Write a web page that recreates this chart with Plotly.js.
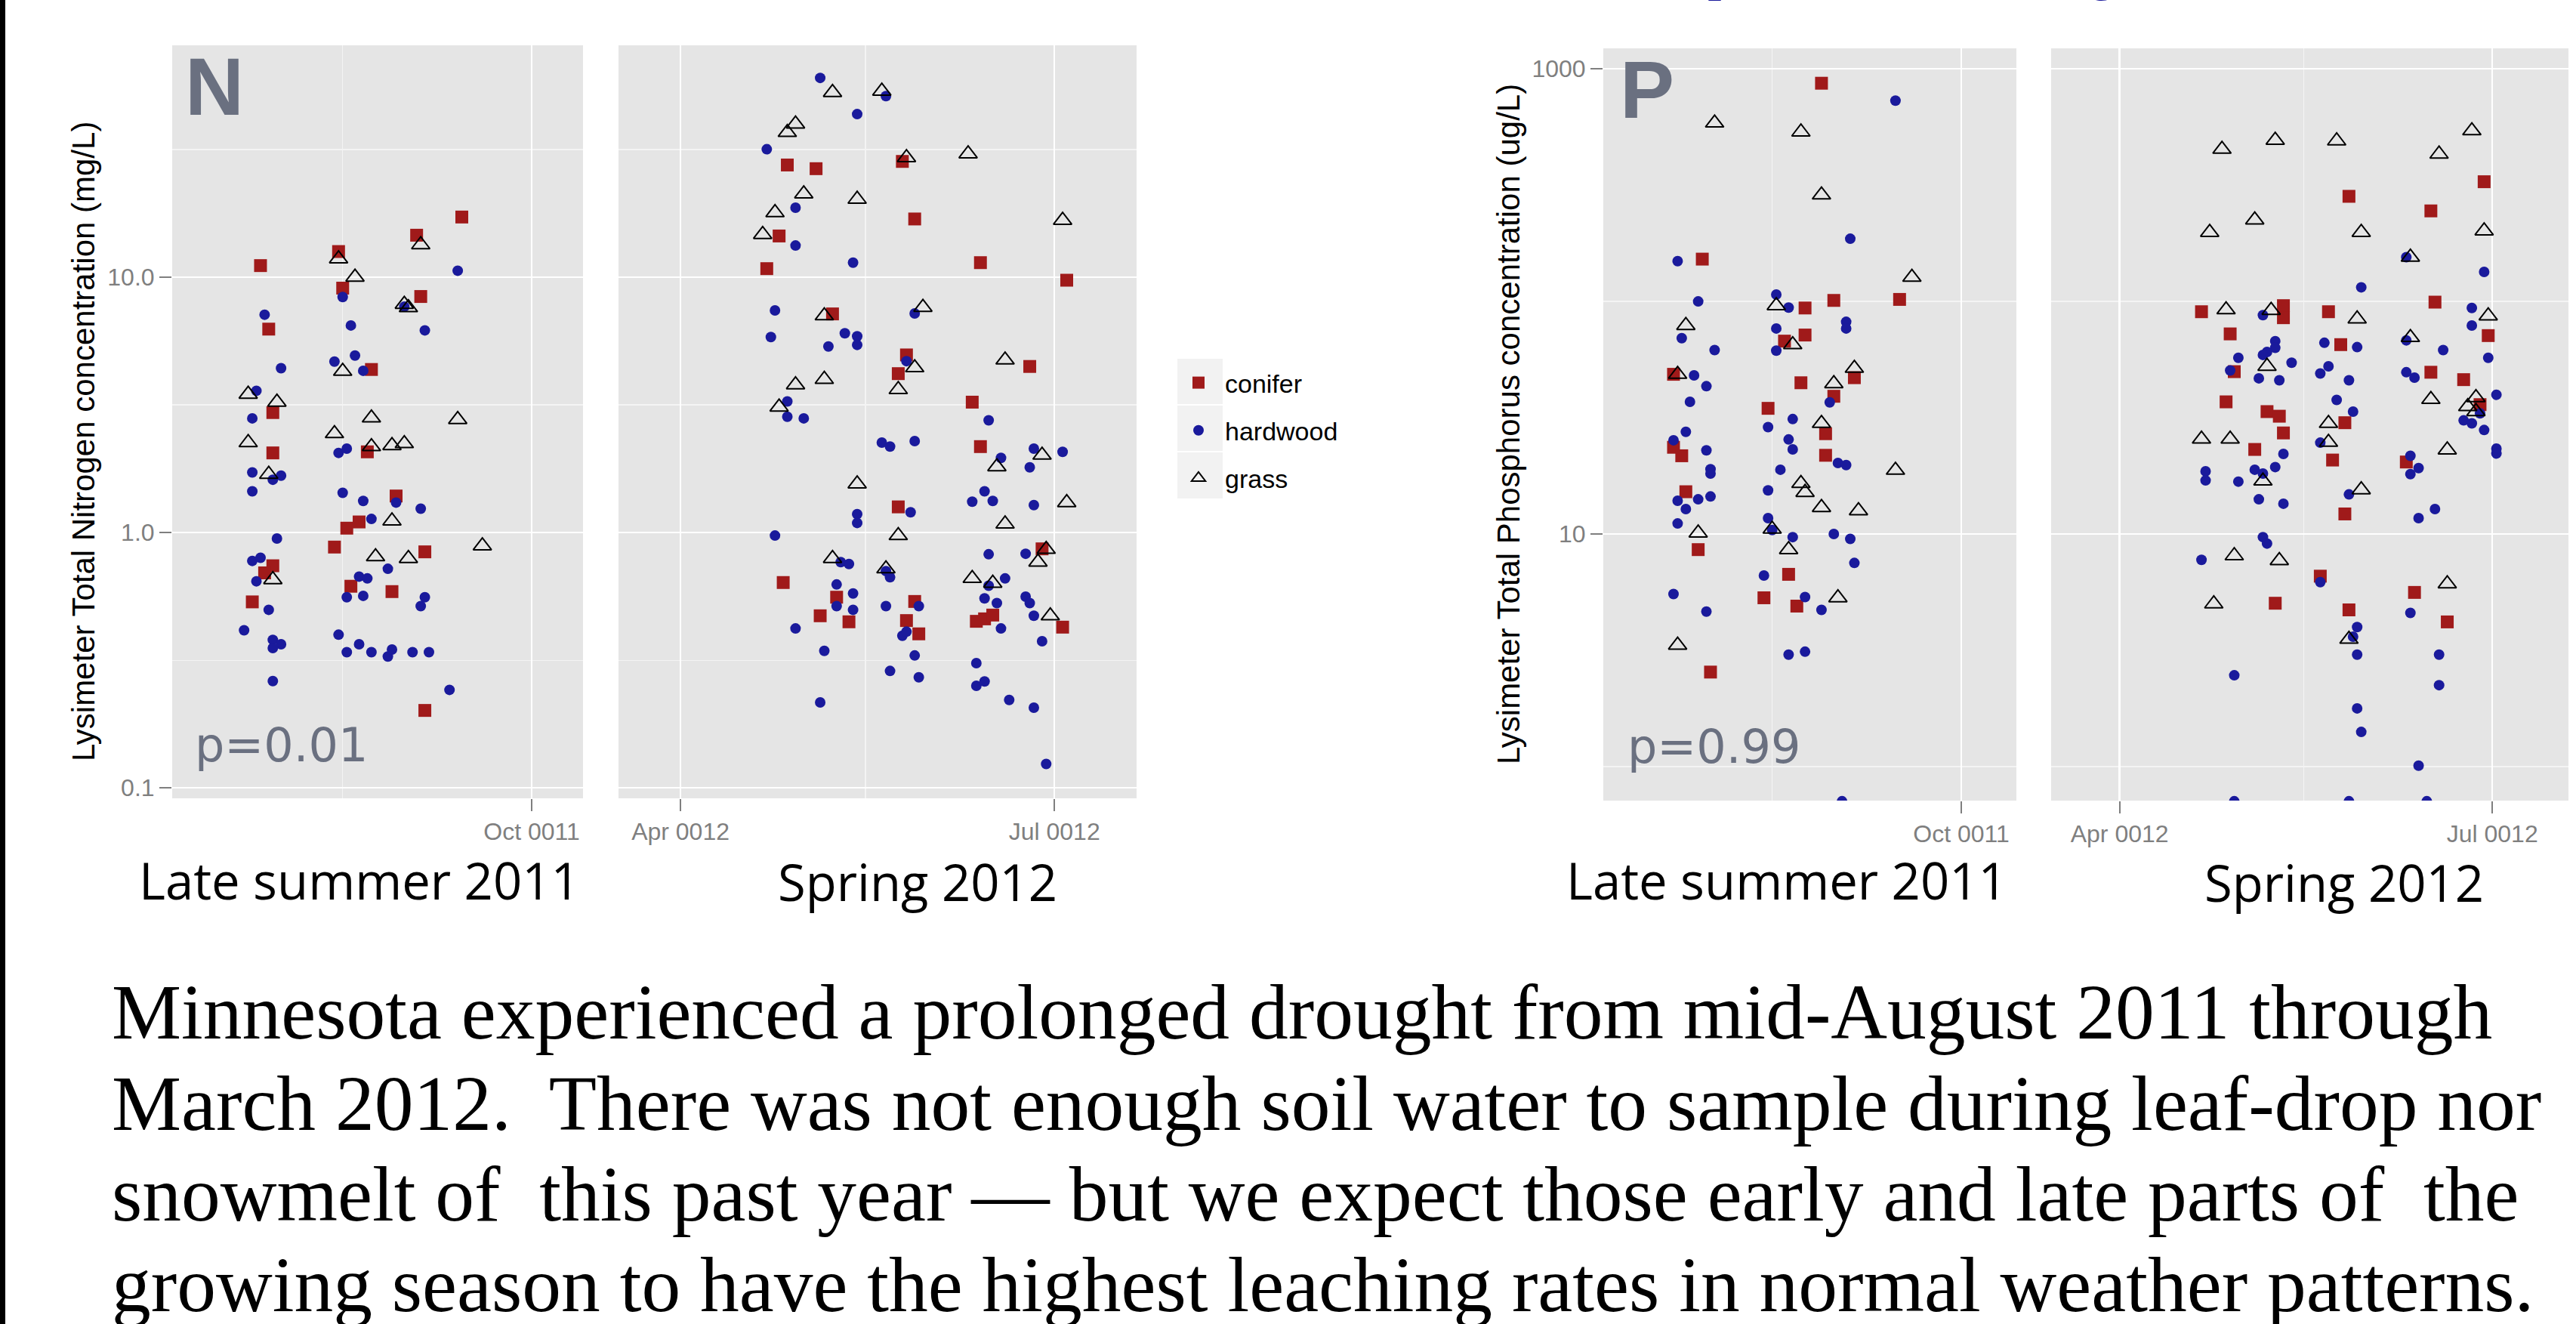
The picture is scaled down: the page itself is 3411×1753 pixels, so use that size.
<!DOCTYPE html>
<html><head><meta charset="utf-8">
<script src="https://cdn.plot.ly/plotly-3.0.1.min.js"></script>
<style>html,body{margin:0;padding:0;background:#fff;}#chart{width:3411px;height:1753px;}</style>
</head><body><div id="chart"></div>
<script>
// ---------- Categories / labels ----------
const seriesNames = ['conifer', 'hardwood', 'grass'];
const periodLabels = ['Late summer 2011', 'Spring 2012'];
const nTickVals = [0.1, 1, 10];
const nTickText = ['0.1', '1.0', '10.0'];
const pTickVals = [10, 1000];
const pTickText = ['10', '1000'];
const lsDateTicks = ['2011-10-01'];
const lsDateTickText = ['Oct 0011'];
const spDateTicks = ['2012-04-01', '2012-07-01'];
const spDateTickText = ['Apr 0012', 'Jul 0012'];
const pValueN = 'p=0.01';
const pValueP = 'p=0.99';

// ---------- Nitrogen (mg/L), late summer 2011 ----------
const nLsConiferDate = ['2011-07-27','2011-07-29','2011-07-30','2011-07-30','2011-07-30','2011-07-28','2011-07-25','2011-08-15','2011-08-16','2011-08-23','2011-08-22','2011-08-17','2011-08-20','2011-08-14','2011-08-18','2011-08-28','2011-08-29','2011-09-03','2011-09-04','2011-09-05','2011-09-05','2011-09-14'];
const nLsConiferVal = [11.1,6.26,2.95,2.05,0.741,0.695,0.535,12.6,9.06,4.35,2.07,1.04,1.10,0.877,0.616,0.587,1.39,14.6,8.40,0.840,0.201,17.2];
const nLsHardwoodDate = ['2011-07-28','2011-08-01','2011-07-26','2011-07-25','2011-07-25','2011-08-01','2011-07-30','2011-07-25','2011-07-31','2011-07-25','2011-07-27','2011-07-26','2011-07-29','2011-07-23','2011-07-30','2011-08-01','2011-07-30','2011-07-30',
 '2011-08-16','2011-08-18','2011-08-19','2011-08-14','2011-08-21','2011-08-15','2011-08-17','2011-08-16','2011-08-21','2011-08-23','2011-08-29','2011-09-04','2011-08-20','2011-08-22','2011-08-27','2011-08-17','2011-08-21','2011-09-05','2011-09-04','2011-08-15','2011-08-20','2011-08-17','2011-08-23','2011-08-27','2011-08-28','2011-09-02','2011-09-06','2011-08-31','2011-09-05','2011-09-13','2011-09-11'];
const nLsHardwoodVal = [7.13,4.40,3.59,2.80,1.72,1.67,1.61,1.45,0.947,0.774,0.796,0.644,0.498,0.414,0.380,0.365,0.353,0.262,
 8.36,6.47,4.93,4.67,4.30,2.05,2.13,1.43,1.33,1.13,1.31,1.24,0.672,0.661,0.721,0.558,0.565,0.558,0.515,0.398,0.365,0.340,0.340,0.327,0.348,0.340,0.340,7.66,6.19,10.6,0.242];
const nLsGrassDate = ['2011-07-24','2011-07-31','2011-07-24','2011-07-29','2011-07-30','2011-08-15','2011-08-19','2011-08-16','2011-08-14','2011-08-23','2011-08-23','2011-08-28','2011-08-31','2011-08-28','2011-08-24','2011-09-01','2011-08-31','2011-09-01','2011-09-04','2011-09-13','2011-09-19'];
const nLsGrassVal = [3.48,3.24,2.25,1.69,0.654,11.8,10.0,4.28,2.44,2.81,2.17,2.19,2.23,1.11,0.804,0.791,7.83,7.6,13.4,2.77,0.887];

// ---------- Nitrogen (mg/L), spring 2012 ----------
const nSpConiferDate = ['2012-04-27','2012-05-04','2012-05-25','2012-05-28','2012-04-25','2012-04-22','2012-06-13','2012-07-04','2012-05-08','2012-05-26','2012-05-24','2012-06-25','2012-06-11','2012-06-13','2012-05-24','2012-06-28','2012-04-26','2012-05-09','2012-05-05','2012-05-12','2012-05-28','2012-05-26','2012-05-29','2012-06-12','2012-06-14','2012-06-16','2012-07-03'];
const nSpConiferVal = [27.5,26.6,28.4,16.9,14.5,10.8,11.4,9.73,7.18,4.96,4.19,4.47,3.24,2.17,1.26,0.863,0.637,0.558,0.472,0.447,0.537,0.452,0.401,0.449,0.459,0.475,0.426];
const nSpHardwoodDate = ['2012-05-05','2012-05-21','2012-05-14','2012-04-22','2012-04-29','2012-04-29','2012-05-13','2012-04-24','2012-04-23','2012-05-11',
 '2012-05-14','2012-05-07','2012-05-14','2012-05-28','2012-04-27','2012-04-27','2012-05-01','2012-05-26','2012-05-20','2012-05-22',
 '2012-05-28','2012-06-15','2012-06-18','2012-06-26','2012-07-03','2012-06-25','2012-06-14','2012-06-11','2012-06-16','2012-06-26',
 '2012-05-14','2012-05-14','2012-05-27','2012-04-24','2012-05-10','2012-05-12','2012-05-21','2012-05-22','2012-05-09','2012-05-13',
 '2012-05-09','2012-05-13','2012-04-29','2012-05-21','2012-05-29','2012-05-25','2012-05-26','2012-05-28','2012-05-06','2012-05-22',
 '2012-05-29','2012-05-05','2012-06-15','2012-06-19','2012-06-15','2012-06-14','2012-06-17','2012-06-18','2012-06-24','2012-06-24',
 '2012-06-25','2012-06-26','2012-06-28','2012-06-12','2012-06-12','2012-06-14','2012-06-20','2012-06-26','2012-06-29'];
const nSpHardwoodVal = [60.3,51.2,43.5,31.7,18.7,13.3,11.4,7.41,5.83,6.03,
 5.87,5.35,5.43,7.21,3.26,2.84,2.80,4.69,2.25,2.17,
 2.28,2.75,1.96,2.13,2.07,1.80,1.45,1.32,1.33,1.28,
 1.18,1.09,1.20,0.973,0.766,0.753,0.706,0.668,0.626,0.577,
 0.515,0.498,0.421,0.515,0.515,0.394,0.409,0.330,0.344,0.287,
 0.271,0.216,0.822,0.661,0.619,0.552,0.529,0.421,0.826,0.561,
 0.529,0.472,0.375,0.308,0.251,0.261,0.221,0.206,0.124];
const nSpGrassDate = ['2012-05-08','2012-05-20','2012-06-10','2012-05-26','2012-04-29','2012-04-27','2012-05-01','2012-04-24','2012-05-14','2012-04-21','2012-07-03','2012-05-06','2012-05-30','2012-06-19','2012-05-28','2012-05-06','2012-04-29','2012-05-24','2012-04-25','2012-05-14','2012-06-28','2012-06-17','2012-07-04','2012-06-19','2012-05-24','2012-05-08','2012-05-21','2012-06-29','2012-06-27','2012-06-11','2012-06-16','2012-06-30'];
const nSpGrassVal = [52.9,53.5,30.4,29.4,39.8,36.9,21.2,17.9,20.2,14.7,16.7,7.06,7.62,4.74,4.42,3.98,3.79,3.63,3.10,1.55,2.01,1.81,1.31,1.08,0.973,0.791,0.721,0.859,0.766,0.661,0.633,0.472];

// ---------- Phosphorus (ug/L), late summer 2011 ----------
const pLsConiferDate = ['2011-08-28','2011-07-30','2011-08-31','2011-09-16','2011-08-24','2011-08-24','2011-08-19','2011-08-23','2011-07-23','2011-08-31','2011-09-05','2011-08-15','2011-08-29','2011-08-29','2011-07-23','2011-07-25','2011-07-26','2011-07-29','2011-08-20','2011-08-14','2011-08-22','2011-08-01'];
const pLsConiferVal = [867,152,101,102,93.7,71.7,67.5,44.7,48.6,39.1,47.0,34.7,27.0,21.8,23.6,21.7,15.2,8.57,6.71,5.32,4.90,2.55];
const pLsHardwoodDate = ['2011-09-15','2011-09-04','2011-07-24','2011-07-29','2011-08-17','2011-08-20','2011-08-17','2011-09-03','2011-09-03','2011-07-25',
 '2011-08-02','2011-08-17','2011-07-28','2011-07-31','2011-07-27','2011-07-26','2011-07-23','2011-07-31','2011-08-01','2011-08-01',
 '2011-08-01','2011-07-29','2011-07-24','2011-07-26','2011-07-24','2011-07-23','2011-07-31','2011-08-21','2011-08-15','2011-08-20',
 '2011-08-21','2011-08-18','2011-08-30','2011-09-01','2011-09-03','2011-08-15','2011-08-15','2011-08-16','2011-08-21','2011-08-31',
 '2011-09-04','2011-09-05','2011-08-14','2011-08-24','2011-08-28','2011-08-20','2011-08-24','2011-09-02'];
const pLsHardwoodVal = [730,186,149,100,107,94.1,76.5,81.7,76.5,69.5,
 61.8,61.4,48.1,43.2,37.0,27.5,25.3,22.9,19.0,18.2,
 14.5,14.1,13.9,12.8,11.1,5.52,4.64,31.2,28.8,25.5,
 23.1,18.9,36.8,20.2,19.8,15.4,11.7,10.4,9.70,10.0,
 9.53,7.51,6.63,5.36,4.72,3.03,3.12,0.71];
const pLsGrassDate = ['2011-08-02','2011-08-23','2011-08-28','2011-09-19','2011-08-17','2011-07-26','2011-08-21','2011-07-24','2011-09-05','2011-08-31','2011-08-28','2011-09-15','2011-08-23','2011-08-24','2011-08-28','2011-09-06','2011-08-16','2011-07-29','2011-08-20','2011-09-01','2011-07-24'];
const pLsGrassVal = [585,535,287,127,95.9,78.8,65.2,48.6,51.6,44.3,29.9,18.8,16.5,15.1,13.0,12.6,10.5,10.1,8.57,5.32,3.33];

// ---------- Phosphorus (ug/L), spring 2012 ----------
const pSpConiferDate = ['2012-06-29','2012-05-27','2012-06-16','2012-06-17','2012-04-21','2012-05-11','2012-05-11','2012-05-22','2012-04-28','2012-05-25',
 '2012-06-30','2012-04-29','2012-06-16','2012-06-24','2012-04-27','2012-05-07','2012-05-10','2012-05-26','2012-05-11','2012-06-28',
 '2012-05-04','2012-05-23','2012-06-10','2012-05-26','2012-05-20','2012-06-12','2012-05-09','2012-05-27','2012-06-20'];
const pSpConiferVal = [327,283,245,99.3,90.3,95.9,85.1,90.3,72.5,65.2,
 71.3,49.9,49.6,46.1,37.0,33.6,32.1,30.1,27.2,36.0,
 23.1,20.8,20.4,12.2,6.59,5.61,5.04,4.72,4.19];
const pSpHardwoodDate = ['2012-05-30','2012-06-29','2012-06-10','2012-06-26','2012-06-26','2012-05-06','2012-05-09','2012-05-09','2012-05-07','2012-05-06',
 '2012-05-21','2012-05-29','2012-06-10','2012-06-19','2012-06-30','2012-04-30','2012-05-13','2012-04-28','2012-05-05','2012-05-10',
 '2012-05-20','2012-05-22','2012-05-27','2012-06-10','2012-06-12','2012-07-02','2012-05-24','2012-05-28','2012-06-24','2012-06-26',
 '2012-06-28','2012-06-29','2012-07-02','2012-07-02','2012-05-20','2012-05-11','2012-05-09','2012-05-04','2012-05-06','2012-04-22',
 '2012-04-22','2012-04-30','2012-06-11','2012-06-13','2012-06-11','2012-05-05','2012-05-11','2012-05-27','2012-06-13','2012-06-17',
 '2012-05-06','2012-05-07','2012-04-21','2012-05-20','2012-06-11','2012-05-29','2012-05-28','2012-05-29','2012-06-18','2012-06-18',
 '2012-04-29','2012-05-29','2012-05-30','2012-06-13','2012-04-29','2012-05-27','2012-06-15'];
const pSpHardwoodVal = [115,134,155,93.7,78.8,87.3,67.5,63.2,60.6,58.9,
 66.4,63.6,68.0,61.8,57.2,57.2,54.5,50.5,46.7,45.8,
 49.0,52.6,45.8,49.6,47.0,39.7,37.7,33.6,30.8,29.9,
 33.0,28.0,23.3,22.2,24.7,22.1,19.4,18.9,18.2,18.6,
 17.0,16.8,21.7,19.2,18.1,14.1,13.5,14.8,11.7,12.8,
 9.70,9.10,7.74,6.21,4.58,3.98,3.62,3.03,3.03,2.24,
 2.47,1.78,1.41,1.01,0.71,0.71,0.71];
const pSpGrassDate = ['2012-06-26','2012-05-09','2012-05-24','2012-04-26','2012-06-18','2012-05-04','2012-04-23','2012-05-30','2012-06-29','2012-06-11',
 '2012-04-27','2012-05-08','2012-05-29','2012-06-30','2012-06-11','2012-05-07','2012-06-16','2012-06-27','2012-06-25','2012-06-27',
 '2012-05-22','2012-04-21','2012-04-28','2012-05-22','2012-06-20','2012-05-06','2012-05-30','2012-04-29','2012-05-10','2012-06-20',
 '2012-04-24','2012-05-27'];
const pSpGrassVal = [542,493,490,451,430,224,198,198,201,155,
 92.1,91.5,84.1,86.7,70.0,52.6,37.9,38.6,35.3,33.6,
 29.9,25.6,25.6,24.8,23.0,16.9,15.5,8.07,7.69,6.11,
 5.01,3.53];

// ---------- Text ----------
const nYTitle = 'Lysimeter Total Nitrogen concentration (mg/L)';
const pYTitle = 'Lysimeter Total Phosphorus concentration (ug/L)';
const bodyLines = [
  'Minnesota experienced a prolonged drought from mid-August 2011 through',
  'March 2012.\u00a0 There was not enough soil water to sample during leaf-drop nor',
  'snowmelt of\u00a0 this past year \u2014 but we expect those early and late parts of\u00a0 the',
  'growing season to have the highest leaching rates in normal weather patterns.'
];
const slideTitle = 'Seasonal pattern by site';

// ---------- Styling ----------
const W = 3411, H = 1753;
const px = v => v / W;
const py = v => 1 - v / H;
const RED = '#A01A1A', BLUE = '#1A1A9C';
const markerStyles = {
  conifer: {symbol: 'square', size: 17, color: RED, line: {width: 0}},
  hardwood: {symbol: 'circle', size: 14, color: BLUE, line: {width: 0}},
  grass: {symbol: 'triangle-up-open', size: 21, color: '#000', line: {width: 2, color: '#000'}}
};

function mk(name, xs, ys, xa, ya, legend) {
  return {type: 'scatter', mode: 'markers', name: name, x: xs, y: ys, xaxis: xa, yaxis: ya,
    marker: markerStyles[name], showlegend: legend, legendgroup: name, cliponaxis: true, hoverinfo: 'skip'};
}
const data = [
  mk('conifer', nLsConiferDate, nLsConiferVal, 'x', 'y', true),
  mk('hardwood', nLsHardwoodDate, nLsHardwoodVal, 'x', 'y', true),
  mk('grass', nLsGrassDate, nLsGrassVal, 'x', 'y', true),
  mk('conifer', nSpConiferDate, nSpConiferVal, 'x2', 'y', false),
  mk('hardwood', nSpHardwoodDate, nSpHardwoodVal, 'x2', 'y', false),
  mk('grass', nSpGrassDate, nSpGrassVal, 'x2', 'y', false),
  mk('conifer', pLsConiferDate, pLsConiferVal, 'x3', 'y2', false),
  mk('hardwood', pLsHardwoodDate, pLsHardwoodVal, 'x3', 'y2', false),
  mk('grass', pLsGrassDate, pLsGrassVal, 'x3', 'y2', false),
  mk('conifer', pSpConiferDate, pSpConiferVal, 'x4', 'y2', false),
  mk('hardwood', pSpHardwoodDate, pSpHardwoodVal, 'x4', 'y2', false),
  mk('grass', pSpGrassDate, pSpGrassVal, 'x4', 'y2', false)
];

const tickFont = {family: 'Liberation Sans, Arial, sans-serif', size: 32, color: '#7F7F7F'};
const minorGrid = vals => ({tickmode: 'array', tickvals: vals, showgrid: true, gridcolor: '#F4F4F4', gridwidth: 1.4, ticks: ''});
function xAx(domain, range, tv, tt, minorVals, anchor) {
  return {type: 'date', domain: domain, range: range, anchor: anchor, tickmode: 'array', tickvals: tv, ticktext: tt,
    ticks: 'outside', ticklen: 16, tickwidth: 2, tickcolor: '#7F7F7F', tickfont: tickFont,
    showgrid: true, gridcolor: '#FFFFFF', gridwidth: 2.5, zeroline: false, showline: false,
    minor: minorGrid(minorVals), fixedrange: true};
}
function yAx(domain, range, tv, tt, minorVals, anchor) {
  return {type: 'log', domain: domain, range: range, anchor: anchor, tickmode: 'array', tickvals: tv, ticktext: tt,
    ticks: 'outside', ticklen: 16, tickwidth: 2, tickcolor: '#7F7F7F', tickfont: tickFont,
    showgrid: true, gridcolor: '#FFFFFF', gridwidth: 2.5, zeroline: false, showline: false,
    minor: minorGrid(minorVals), fixedrange: true};
}

const annSans = 'Open Sans, sans-serif';
const annotations = [
  {text: nYTitle, x: px(110), y: py(585), textangle: -90, font: {family: 'Liberation Sans, Arial', size: 42, color: '#000'}},
  {text: pYTitle, x: px(1997), y: py(562), textangle: -90, font: {family: 'Liberation Sans, Arial', size: 42, color: '#000'}},
  {text: '<b>N</b>', x: px(243), y: py(114), xanchor: 'left', font: {family: 'Liberation Sans, Arial', size: 108, color: '#6A7080'}},
  {text: '<b>P</b>', x: px(2143), y: py(118), xanchor: 'left', font: {family: 'Liberation Sans, Arial', size: 108, color: '#6A7080'}},
  {text: pValueN, x: px(256), y: py(987), xanchor: 'left', font: {family: 'DejaVu Sans', size: 62, color: '#6A7080'}},
  {text: pValueP, x: px(2153), y: py(988), xanchor: 'left', font: {family: 'DejaVu Sans', size: 62, color: '#6A7080'}},
  {text: periodLabels[0], x: px(476), y: py(1165), font: {family: annSans, size: 67, color: '#000'}},
  {text: periodLabels[1], x: px(1215), y: py(1167), font: {family: annSans, size: 67, color: '#000'}},
  {text: periodLabels[0], x: px(2366), y: py(1165), font: {family: annSans, size: 67, color: '#000'}},
  {text: periodLabels[1], x: px(3104), y: py(1168), font: {family: annSans, size: 67, color: '#000'}},
  {text: slideTitle, x: px(1736), y: py(9), xanchor: 'left', yanchor: 'bottom', font: {family: annSans, size: 110, color: '#1A1A9C', weight: 700}}
];
const bodyBase = [1375, 1496, 1616, 1736];
bodyLines.forEach((t, i) => {
  annotations.push({text: t, x: px(146), y: py(bodyBase[i] - 35), xanchor: 'left',
    font: {family: 'Liberation Serif, Times New Roman, serif', size: 103.5, color: '#000'}});
});
annotations.forEach(a => { a.xref = 'paper'; a.yref = 'paper'; a.showarrow = false;
  if (!a.xanchor) a.xanchor = 'center'; if (!a.yanchor) a.yanchor = 'middle'; });

const shapes = [
  {type: 'rect', xref: 'paper', yref: 'paper', x0: 0, x1: px(7), y0: 0, y1: 1, fillcolor: '#000', line: {width: 0}, layer: 'below'},
  {type: 'rect', xref: 'paper', yref: 'paper', x0: px(1559), x1: px(1619), y0: py(535), y1: py(475), fillcolor: '#F2F2F2', line: {width: 0}, layer: 'below'},
  {type: 'rect', xref: 'paper', yref: 'paper', x0: px(1559), x1: px(1619), y0: py(597), y1: py(537), fillcolor: '#F2F2F2', line: {width: 0}, layer: 'below'},
  {type: 'rect', xref: 'paper', yref: 'paper', x0: px(1559), x1: px(1619), y0: py(660), y1: py(599), fillcolor: '#F2F2F2', line: {width: 0}, layer: 'below'}
];

const layout = {
  width: W, height: H, margin: {l: 0, r: 0, t: 0, b: 0, pad: 0},
  paper_bgcolor: '#FFFFFF', plot_bgcolor: '#E5E5E5', showlegend: true,
  legend: {x: px(1552), xanchor: 'left', y: py(478), yanchor: 'top', bgcolor: 'rgba(0,0,0,0)',
    font: {family: 'Liberation Sans, Arial', size: 34, color: '#000'}, traceorder: 'grouped', tracegroupgap: 16, itemwidth: 60},
  xaxis: xAx([px(228), px(772)], ['2011-07-05 12:00', '2011-10-13 12:00'], lsDateTicks, lsDateTickText, ['2011-08-16'], 'y'),
  xaxis2: xAx([px(819), px(1505)], ['2012-03-16 22:00', '2012-07-21'], spDateTicks, spDateTickText, ['2012-05-16'], 'y'),
  xaxis3: xAx([px(2123), px(2670)], ['2011-07-05 22:00', '2011-10-14 10:00'], lsDateTicks, lsDateTickText, ['2011-08-16'], 'y2'),
  xaxis4: xAx([px(2716), px(3401)], ['2012-03-15 07:00', '2012-07-19 14:00'], spDateTicks, spDateTickText, ['2012-05-16'], 'y2'),
  yaxis: yAx([py(1057), py(60)], [-1.041, 1.908], nTickVals, nTickText, [0.316, 3.16, 31.6], 'x'),
  yaxis2: yAx([py(1060), py(64)], [-0.146, 3.088], pTickVals, pTickText, [1, 100], 'x3'),
  annotations: annotations, shapes: shapes
};
Plotly.newPlot('chart', data, layout, {staticPlot: true, displayModeBar: false});
</script></body></html>
